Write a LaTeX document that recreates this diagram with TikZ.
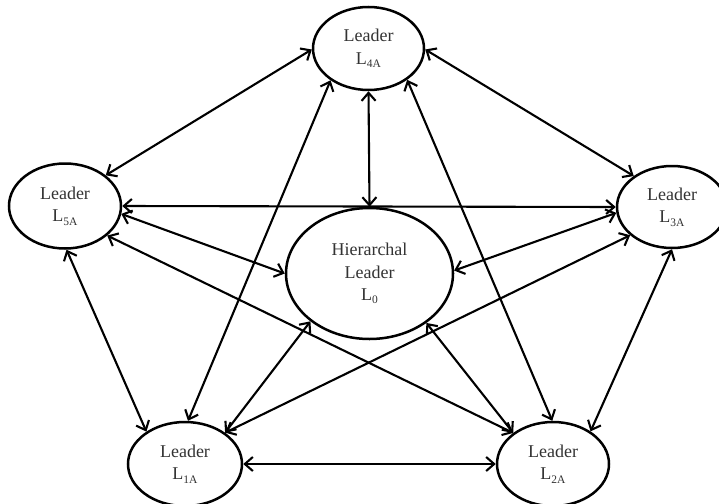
\documentclass[tikz,border=0pt]{standalone}
\usepackage{fontspec}
\setmainfont{Liberation Serif}
\usetikzlibrary{shapes.geometric,arrows.meta}
\newcommand\lsub[1]{\raisebox{-0.4ex}{\fontsize{11.5}{11.5}\selectfont #1}}
\begin{document}
\begin{tikzpicture}[x=1pt,y=-1pt,
  leader/.style={ellipse,draw,line width=2.5pt,inner sep=0pt,align=center,
    text=black!80,font=\fontsize{18}{22.5}\selectfont},
  link/.style={line width=2.1pt,
    {Straight Barb[length=8pt,width=14pt]}-{Straight Barb[length=8pt,width=14pt]}}]
\clip (0,0) rectangle (719,503);
\fill[white] (0,0) rectangle (719,503);
\node[leader,minimum width=111pt,minimum height=83pt] (L4) at (368.5,48.5) {Leader\\L\lsub{4A}};
\node[leader,minimum width=112pt,minimum height=85pt] (L5) at (65,206) {Leader\\L\lsub{5A}};
\node[leader,minimum width=110pt,minimum height=82pt] (L3) at (672,207) {Leader\\L\lsub{3A}};
\node[leader,minimum width=167pt,minimum height=131pt] (L0) at (369.5,273.5) {Hierarchal\\Leader\\L\lsub{0}};
\node[leader,minimum width=114pt,minimum height=84pt] (L1) at (185,464) {Leader\\L\lsub{1A}};
\node[leader,minimum width=112pt,minimum height=84pt] (L2) at (553,464) {Leader\\L\lsub{2A}};
% links
\draw[link] (L4.181) -- (L5.37);
\draw[link] (L4.-1) -- (L3.141);
\draw[link] (L4.south) -- (L0.north);
\draw[link] (L5.east) -- (L3.west);
\draw[link] (L4.220) -- (L1.86);
\draw[link] (L4.-39) -- (L2.91);
\draw[link] (L5.-88) -- (L1.140);
\draw[link] (L5.-8) -- (L0.180);
\draw[link] (L5.-35) -- (L2.142);
\draw[link] (L3.186) -- (L0.2);
\draw[link] (L3.270) -- (L2.41);
\draw[link] (L1.east) -- (L2.west);
\draw[link] (L1.38) -- (L0.219);
\draw[link] (L0.-41) -- (L2.142);
\draw[link] (L1.38) -- (L3.214);
\end{tikzpicture}
\end{document}
